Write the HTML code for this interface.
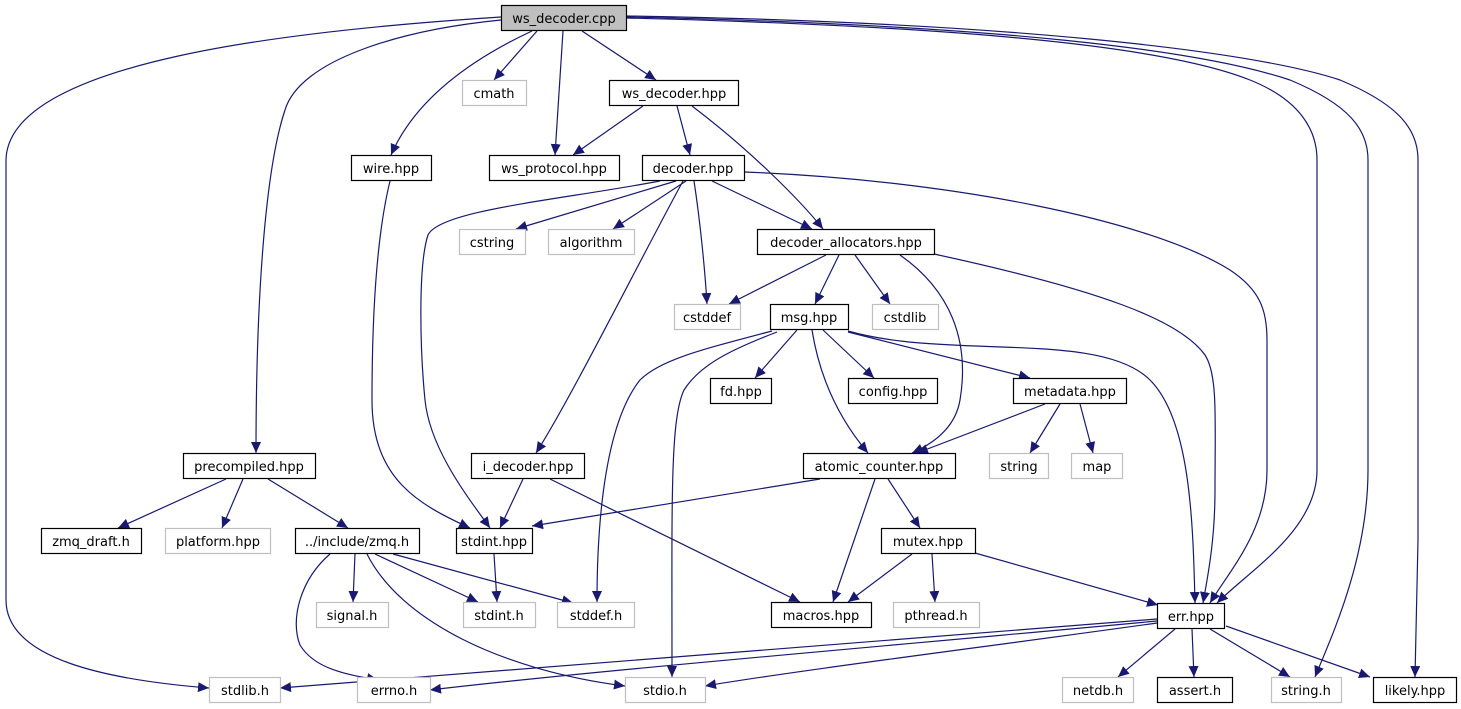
<!DOCTYPE html>
<html><head><meta charset="utf-8"><style>
html,body{margin:0;padding:0;background:#fff;}
svg{display:block;}
text{font-family:"DejaVu Sans","Liberation Sans",sans-serif;font-size:13px;text-anchor:middle;fill:#000;}
.e{fill:none;stroke:#191970;stroke-width:1.2;marker-end:url(#a);}
.n{fill:#fff;stroke:#000;stroke-width:1.2;}
.g{fill:#fff;stroke:#bfbfbf;stroke-width:1.2;}
</style></head><body>
<svg width="1461" height="709" viewBox="0 0 1461 709" xmlns="http://www.w3.org/2000/svg">
<defs><marker id="a" markerUnits="userSpaceOnUse" markerWidth="12" markerHeight="10" refX="11" refY="5" orient="auto"><path d="M0,0 L11,5 L0,10 z" fill="#191970"/></marker></defs>
<g>
<path class="e" d="M537,31 L494,80"/>
<path class="e" d="M563,31 L555,155"/>
<path class="e" d="M582,31 L656,80"/>
<path class="e" d="M532,31 C470,60 415,100 391,155"/>
<path class="e" d="M501,20 C400,30 300,60 285,110 C265,170 256,300 256,453"/>
<path class="e" d="M501,17 C300,30 8,60 6,160 L6,600 C6,660 110,680 209,688"/>
<path class="e" d="M627,18 C900,25 1150,40 1250,80 C1300,100 1317,130 1317,160 L1317,470 C1317,530 1250,570 1217,603"/>
<path class="e" d="M627,17 C1000,25 1200,50 1290,80 C1350,105 1368,130 1368,160 L1368,470 C1368,560 1330,640 1315,677"/>
<path class="e" d="M627,16 C1000,22 1250,50 1340,80 C1400,105 1418,130 1418,160 L1418,540 L1415,677"/>
<path class="e" d="M643,106 L573,155"/>
<path class="e" d="M677,106 L690,155"/>
<path class="e" d="M692,106 C750,150 800,200 823,229"/>
<path class="e" d="M390,181 C378,230 372,300 372,400 C372,480 420,505 470,528"/>
<path class="e" d="M676,181 L516,229"/>
<path class="e" d="M686,181 L613,229"/>
<path class="e" d="M694,181 C700,220 705,270 707,304"/>
<path class="e" d="M712,181 L812,229"/>
<path class="e" d="M683,181 C640,260 570,400 536,453"/>
<path class="e" d="M660,181 C560,200 440,210 428,235 C418,265 420,350 425,400 C430,450 470,500 490,528"/>
<path class="e" d="M744,172 C950,180 1150,220 1230,270 C1260,290 1267,310 1267,340 L1267,470 C1267,530 1230,570 1210,603"/>
<path class="e" d="M826,255 L729,304"/>
<path class="e" d="M839,255 L815,304"/>
<path class="e" d="M855,255 L890,304"/>
<path class="e" d="M900,255 C950,290 970,340 960,400 C955,430 930,445 912,453"/>
<path class="e" d="M934,254 C1100,290 1180,320 1205,355 C1218,375 1215,420 1215,490 C1215,540 1208,575 1203,603"/>
<path class="e" d="M797,330 L755,378"/>
<path class="e" d="M823,330 L874,378"/>
<path class="e" d="M812,330 C820,380 840,420 868,453"/>
<path class="e" d="M848,332 L1030,378"/>
<path class="e" d="M848,331 C950,360 1100,330 1150,380 C1190,420 1193,520 1195,603"/>
<path class="e" d="M772,331 C700,350 660,360 640,380 C600,430 597,550 597,602"/>
<path class="e" d="M777,332 C730,350 700,365 684,390 C670,420 672,500 672,677"/>
<path class="e" d="M1045,404 L917,453"/>
<path class="e" d="M1060,404 L1030,453"/>
<path class="e" d="M1080,404 L1093,453"/>
<path class="e" d="M226,479 L118,528"/>
<path class="e" d="M243,479 L222,528"/>
<path class="e" d="M268,479 L348,528"/>
<path class="e" d="M523,479 L500,528"/>
<path class="e" d="M550,479 L800,602"/>
<path class="e" d="M820,479 L532,526"/>
<path class="e" d="M875,479 L833,602"/>
<path class="e" d="M888,479 L920,528"/>
<path class="e" d="M494,554 L497,602"/>
<path class="e" d="M355,554 L353,602"/>
<path class="e" d="M375,554 L478,602"/>
<path class="e" d="M393,554 L573,603"/>
<path class="e" d="M330,554 C300,580 290,620 300,645 C315,670 350,675 378,680"/>
<path class="e" d="M367,554 C400,620 500,670 625,686"/>
<path class="e" d="M912,554 L848,602"/>
<path class="e" d="M932,554 L935,602"/>
<path class="e" d="M975,553 L1158,605"/>
<path class="e" d="M1157,619 C900,640 500,670 280,688"/>
<path class="e" d="M1157,621 C900,645 600,670 430,690"/>
<path class="e" d="M1157,623 C1000,645 800,670 705,686"/>
<path class="e" d="M1175,629 L1118,677"/>
<path class="e" d="M1192,629 L1194,677"/>
<path class="e" d="M1210,629 L1290,677"/>
<path class="e" d="M1226,626 L1370,677"/>
</g>
<g>
<rect x="501.5" y="5.5" width="125" height="25" fill="#bfbfbf" stroke="#000" stroke-width="1.2"/><text x="564" y="23">ws_decoder.cpp</text>
<rect class="g" x="462.5" y="80.5" width="64" height="25"/><text x="494" y="98">cmath</text>
<rect class="n" x="609.5" y="80.5" width="129" height="25"/><text x="674" y="98">ws_decoder.hpp</text>
<rect class="n" x="351.5" y="155.5" width="80" height="25"/><text x="391" y="173">wire.hpp</text>
<rect class="n" x="489.5" y="155.5" width="130" height="25"/><text x="554" y="173">ws_protocol.hpp</text>
<rect class="n" x="642.5" y="155.5" width="102" height="25"/><text x="693" y="173">decoder.hpp</text>
<rect class="g" x="459.5" y="229.5" width="66" height="25"/><text x="492" y="247">cstring</text>
<rect class="g" x="548.5" y="229.5" width="86" height="25"/><text x="591" y="247">algorithm</text>
<rect class="n" x="757.5" y="229.5" width="177" height="25"/><text x="846" y="247">decoder_allocators.hpp</text>
<rect class="g" x="674.5" y="304.5" width="66" height="25"/><text x="707" y="322">cstddef</text>
<rect class="n" x="770.5" y="304.5" width="78" height="25"/><text x="809" y="322">msg.hpp</text>
<rect class="g" x="872.5" y="304.5" width="66" height="25"/><text x="905" y="322">cstdlib</text>
<rect class="n" x="710.5" y="378.5" width="61" height="25"/><text x="741" y="396">fd.hpp</text>
<rect class="n" x="848.5" y="378.5" width="89" height="25"/><text x="893" y="396">config.hpp</text>
<rect class="n" x="1013.5" y="378.5" width="113" height="25"/><text x="1070" y="396">metadata.hpp</text>
<rect class="n" x="183.5" y="453.5" width="132" height="25"/><text x="249" y="471">precompiled.hpp</text>
<rect class="n" x="471.5" y="453.5" width="113" height="25"/><text x="528" y="471">i_decoder.hpp</text>
<rect class="n" x="803.5" y="453.5" width="152" height="25"/><text x="879" y="471">atomic_counter.hpp</text>
<rect class="g" x="989.5" y="453.5" width="59" height="25"/><text x="1019" y="471">string</text>
<rect class="g" x="1071.5" y="453.5" width="51" height="25"/><text x="1097" y="471">map</text>
<rect class="n" x="41.5" y="528.5" width="100" height="25"/><text x="91" y="546">zmq_draft.h</text>
<rect class="g" x="165.5" y="528.5" width="105" height="25"/><text x="218" y="546">platform.hpp</text>
<rect class="n" x="295.5" y="528.5" width="124" height="25"/><text x="357" y="546">../include/zmq.h</text>
<rect class="n" x="456.5" y="528.5" width="76" height="25"/><text x="494" y="546">stdint.hpp</text>
<rect class="n" x="881.5" y="528.5" width="94" height="25"/><text x="928" y="546">mutex.hpp</text>
<rect class="g" x="316.5" y="602.5" width="72" height="25"/><text x="352" y="620">signal.h</text>
<rect class="g" x="463.5" y="602.5" width="72" height="25"/><text x="499" y="620">stdint.h</text>
<rect class="g" x="557.5" y="602.5" width="77" height="25"/><text x="596" y="620">stddef.h</text>
<rect class="n" x="771.5" y="602.5" width="100" height="25"/><text x="821" y="620">macros.hpp</text>
<rect class="g" x="893.5" y="602.5" width="86" height="25"/><text x="936" y="620">pthread.h</text>
<rect class="n" x="1157.5" y="603.5" width="67" height="25"/><text x="1191" y="621">err.hpp</text>
<rect class="g" x="209.5" y="677.5" width="71" height="25"/><text x="245" y="695">stdlib.h</text>
<rect class="g" x="357.5" y="677.5" width="73" height="25"/><text x="394" y="695">errno.h</text>
<rect class="g" x="625.5" y="677.5" width="80" height="25"/><text x="665" y="695">stdio.h</text>
<rect class="g" x="1062.5" y="677.5" width="71" height="25"/><text x="1098" y="695">netdb.h</text>
<rect class="n" x="1157.5" y="677.5" width="75" height="25"/><text x="1195" y="695">assert.h</text>
<rect class="g" x="1271.5" y="677.5" width="70" height="25"/><text x="1306" y="695">string.h</text>
<rect class="n" x="1373.5" y="677.5" width="83" height="25"/><text x="1415" y="695">likely.hpp</text>
</g>
</svg>
</body></html>
